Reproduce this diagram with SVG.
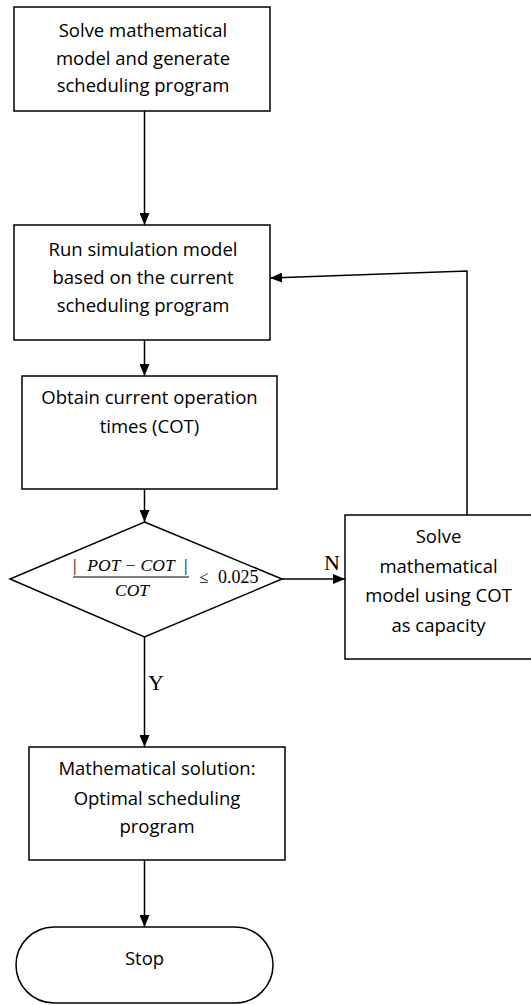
<svg xmlns="http://www.w3.org/2000/svg" width="531" height="1005" viewBox="0 0 531 1005">
<style>
.box{fill:#fff;stroke:#000;stroke-width:1.5}
.t{font-family:"Open Sans","Liberation Sans",sans-serif;font-size:18.5px;text-anchor:middle;fill:#000}
.m{font-family:"Liberation Serif","Times New Roman",serif;fill:#000}
.c{fill:none;stroke:#000;stroke-width:1.5}
</style>
<defs>
<marker id="ah" viewBox="0 0 12 10" refX="12" refY="5" markerWidth="12" markerHeight="10" markerUnits="userSpaceOnUse" orient="auto">
<path d="M0,0 L12,5 L0,10 Z" fill="#000"/>
</marker>
</defs>
<rect width="531" height="1005" fill="#fff"/>
<g id="connectors">
<line class="c" x1="144.5" y1="111" x2="144.5" y2="225" marker-end="url(#ah)"/>
<line class="c" x1="144.5" y1="340" x2="144.5" y2="376" marker-end="url(#ah)"/>
<line class="c" x1="144.5" y1="489" x2="144.5" y2="522" marker-end="url(#ah)"/>
<line class="c" x1="144.5" y1="637" x2="144.5" y2="747" marker-end="url(#ah)"/>
<line class="c" x1="144.5" y1="860" x2="144.5" y2="927" marker-end="url(#ah)"/>
<line class="c" x1="282" y1="579" x2="345" y2="579" marker-end="url(#ah)"/>
<polyline class="c" points="467,515 467,271 270,278" marker-end="url(#ah)"/>
<text class="m" x="324" y="570" font-size="22">N</text>
<text class="m" x="148" y="690" font-size="22">Y</text>
</g>
<g id="n1">
<rect class="box" x="14" y="7" width="256" height="104"/>
<text class="t" x="143" y="37">Solve mathematical</text>
<text class="t" x="143" y="64.5">model and generate</text>
<text class="t" x="143" y="92">scheduling program</text>
</g>
<g id="n2">
<rect class="box" x="14" y="225" width="256" height="115"/>
<text class="t" x="143" y="256">Run simulation model</text>
<text class="t" x="143" y="284">based on the current</text>
<text class="t" x="143" y="312">scheduling program</text>
</g>
<g id="n3">
<rect class="box" x="22" y="376" width="255" height="113"/>
<text class="t" x="149.5" y="404">Obtain current operation</text>
<text class="t" x="149.5" y="433">times (COT)</text>
</g>
<g id="n4">
<polygon class="box" points="144.5,522 282,579 144.5,637 10,579"/>
<text class="m" x="73" y="571" font-size="17.5">|</text>
<text class="m" x="131" y="571" font-size="17.5" font-style="italic" text-anchor="middle">POT − COT</text>
<text class="m" x="184" y="571" font-size="17.5">|</text>
<line x1="73" y1="577" x2="189" y2="577" stroke="#000" stroke-width="1"/>
<text class="m" x="132" y="596" font-size="17.5" font-style="italic" text-anchor="middle">COT</text>
<text class="m" x="199" y="583" font-size="17">≤</text>
<text class="m" x="218" y="583" font-size="18">0.025</text>
</g>
<g id="n5">
<rect class="box" x="345" y="515" width="195" height="144"/>
<text class="t" x="438.5" y="543">Solve</text>
<text class="t" x="438.5" y="573">mathematical</text>
<text class="t" x="438.5" y="602">model using COT</text>
<text class="t" x="438.5" y="632">as capacity</text>
</g>
<g id="n6">
<rect class="box" x="29" y="747" width="256" height="113"/>
<text class="t" x="157" y="775">Mathematical solution:</text>
<text class="t" x="157" y="805">Optimal scheduling</text>
<text class="t" x="157" y="833">program</text>
</g>
<g id="n7">
<rect class="box" x="16" y="927" width="257" height="76" rx="38" ry="38"/>
<text class="t" x="144.5" y="965">Stop</text>
</g>
</svg>
